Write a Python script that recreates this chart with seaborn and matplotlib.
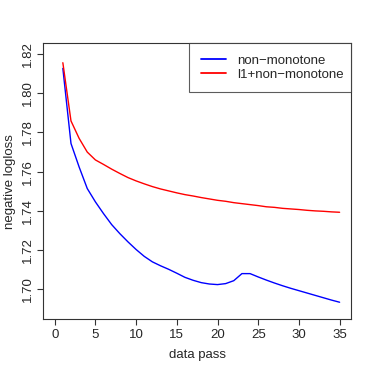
import matplotlib
matplotlib.use("Agg")
import matplotlib.pyplot as plt
import seaborn as sns
import pandas as pd
from matplotlib.lines import Line2D

passes = list(range(1, 36))
non_monotone = [1.8127, 1.7744, 1.7624, 1.7514, 1.7446, 1.7386, 1.7330, 1.7284, 1.7242, 1.7203,
                1.7168, 1.7140, 1.7120, 1.7102, 1.7082, 1.7061, 1.7046, 1.7034, 1.7027, 1.7024,
                1.7029, 1.7044, 1.7080, 1.7080, 1.7063, 1.7047, 1.7032, 1.7018, 1.7005, 1.6993,
                1.6981, 1.6969, 1.6957, 1.6945, 1.6934]
l1_non_monotone = [1.8156, 1.7859, 1.7770, 1.7700, 1.7660, 1.7637, 1.7613, 1.7591, 1.7570, 1.7553,
                   1.7538, 1.7524, 1.7512, 1.7502, 1.7492, 1.7483, 1.7476, 1.7468, 1.7461, 1.7454,
                   1.7449, 1.7442, 1.7437, 1.7432, 1.7427, 1.7421, 1.7418, 1.7413, 1.7410, 1.7407,
                   1.7403, 1.7400, 1.7398, 1.7395, 1.7393]
series_names = ["non\u2212monotone", "l1+non\u2212monotone"]
colors = ["#0000FF", "#FF0000"]
x_ticks = [0, 5, 10, 15, 20, 25, 30, 35]
y_ticks = [1.70, 1.72, 1.74, 1.76, 1.78, 1.80, 1.82]

df = pd.concat([
    pd.DataFrame({"pass": passes, "value": non_monotone, "series": series_names[0]}),
    pd.DataFrame({"pass": passes, "value": l1_non_monotone, "series": series_names[1]}),
])

sns.set_style("white")
plt.rcParams["font.family"] = ["Liberation Sans", "DejaVu Sans"]

fig = plt.figure(figsize=(3.74, 3.74), dpi=100)
ax = fig.add_axes([0.1158, 0.1463, 0.8227, 0.7379])
sns.lineplot(data=df, x="pass", y="value", hue="series", palette=dict(zip(series_names, colors)),
             linewidth=1.0, ax=ax, legend=False)

ax.set_xlim(-1.4, 36.4)
ax.set_ylim(1.6847, 1.8255)
ax.set_xticks(x_ticks)
ax.set_xticklabels([str(t) for t in x_ticks], fontsize=9.5)
ax.set_yticks(y_ticks)
ax.set_yticklabels([f"{t:.2f}" for t in y_ticks], fontsize=9.5, rotation=90, va="center")
ax.tick_params(axis="both", direction="out", length=4, width=0.8, color="#333333", pad=3,
               bottom=True, left=True)
ax.set_xlabel("data pass", fontsize=9.5, labelpad=6)
ax.set_ylabel("negative logloss", fontsize=9.5, labelpad=4)
for s in ax.spines.values():
    s.set_color("#333333")
    s.set_linewidth(0.8)

handles = [Line2D([0], [0], color=c, lw=1.3) for c in colors]
leg = ax.legend(handles, series_names, loc="upper right", mode="expand",
                bbox_to_anchor=(0.4745, 0.826, 0.5255, 0.174), borderaxespad=0, fontsize=9.5,
                frameon=True, fancybox=False, handlelength=1.9, handletextpad=0.9,
                borderpad=0.85, labelspacing=0.12)
leg.get_frame().set_edgecolor("#333333")
leg.get_frame().set_linewidth(0.8)

fig.savefig("out.png", dpi=100)
